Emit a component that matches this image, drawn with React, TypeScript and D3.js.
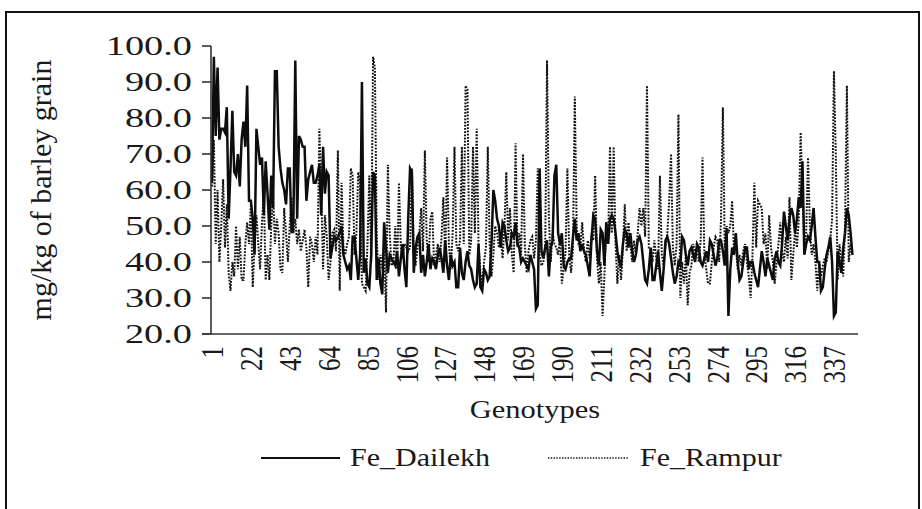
import React, {useEffect, useRef} from 'react'
import * as d3 from 'd3'

// Fe content (mg/kg of barley grain) per genotype
const feDailekh = [
  62, 97, 75, 94, 74, 77, 77, 76, 83, 52,
  66, 82, 65, 64, 70, 61, 74, 79, 72, 89, 57, 57, 52,
  42, 77, 72, 67, 69, 53, 68, 59, 49, 64,
  55, 93, 93, 72, 66, 62, 60, 56, 66, 66,
  48, 52, 96, 52, 75, 74, 72, 72, 57, 63, 65,
  67, 62, 62, 64, 67, 53, 72, 59, 65, 64,
  41, 44, 47, 46, 47, 48, 50,
  42, 40, 38, 39, 35, 47, 47, 41,
  35, 42, 90, 37, 41, 34, 33, 42, 65, 64,
  35, 41, 34, 31, 51, 44, 37, 42, 41, 40, 39, 43, 36, 41, 45,
  38, 33, 52, 66, 65, 37, 44, 47, 48, 37, 42, 36, 40, 45, 38,
  41, 40, 38, 42, 44, 41, 37, 46, 39, 35, 42, 39, 40, 33, 33, 44,
  37, 35, 40, 43, 39, 38, 35, 33, 34, 45,
  33, 32, 38, 37, 35, 36, 45, 60, 57, 52,
  50, 44, 51, 50, 46, 43, 44, 48, 47, 51,
  45, 44, 40, 41, 40, 39, 38, 42, 40, 38,
  27, 28, 66, 43, 41, 44, 46, 36, 44, 46,
  64, 67, 48, 45, 48, 39, 38, 40, 41, 41,
  47, 52, 46, 48, 43, 45, 43, 42,
  39, 36, 46, 53, 52, 43,
  39, 49, 48, 39, 51, 45, 52, 53, 52, 48,
  43, 40, 39, 45, 49, 48, 44, 48, 43, 40,
  42, 46, 47, 45, 40, 35, 34, 38, 44, 35,
  35, 39, 43, 37, 32, 38, 46, 47, 45, 41,
  37, 34, 36, 40, 39, 47, 46, 42, 39, 43,
  44, 42, 40, 45, 44, 40, 39, 41, 43, 40,
  46, 45, 42, 39, 41, 46, 46, 43, 39, 49,
  25, 38, 44, 42, 48, 40, 35, 36, 40, 44,
  44, 38, 40, 40, 37, 35, 33, 38, 43, 40, 36, 41, 39,
  37, 35, 41, 43, 40, 39, 45, 54, 50, 46, 52,
  55, 53, 48, 52, 58, 55, 68, 42, 45,
  47, 46, 50, 55, 47, 40, 40, 32, 33,
  38, 42, 44, 47, 40,
  25, 26, 43, 40, 37, 44, 48, 55, 53, 48, 42,
]

const feRampur = [
  61, 74, 45, 60, 40, 50, 63, 44, 56, 37,
  32, 40, 36, 50, 38, 47, 35, 35, 45, 51, 45, 56, 33,
  45, 53, 45, 38, 51, 59, 35, 42, 35, 50,
  59, 45, 52, 48, 38, 37, 55, 48, 40, 50,
  58, 48, 52, 45, 49, 43, 46, 49, 44, 33, 47,
  45, 40, 47, 42, 77, 60, 38, 53, 47, 35,
  40, 48, 49, 43, 71, 32, 62,
  44, 42, 45, 47, 66, 64, 42, 48,
  65, 62, 34, 33, 32, 45, 64, 40, 97, 94,
  47, 35, 42, 38, 45, 26, 67, 48, 39, 40, 50, 38, 62, 44, 41,
  45, 44, 43, 44, 66, 42, 39, 44, 48, 55, 43, 71, 46, 40, 52,
  54, 39, 42, 45, 40, 47, 58, 40, 69, 45, 38, 48, 72, 45, 43, 46,
  72, 45, 89, 88, 42, 46, 72, 48, 77, 45,
  37, 34, 40, 44, 72, 45, 36, 42, 50, 48,
  44, 47, 41, 50, 65, 46, 55, 42, 37, 73,
  44, 48, 42, 70, 45, 37, 43, 46, 47, 41,
  46, 66, 42, 39, 40, 44, 96, 52, 40, 48,
  45, 44, 42, 47, 34, 38, 43, 66, 42, 37,
  44, 86, 50, 45, 44, 51, 43, 40,
  46, 41, 48, 46, 64, 41,
  34, 40, 25, 36, 51, 45, 72, 48, 72, 45,
  34, 42, 35, 44, 56, 43, 51, 45, 40, 46,
  42, 48, 55, 50, 55, 47, 89, 44, 44, 40,
  46, 41, 38, 64, 42, 39, 44, 48, 57, 70,
  44, 39, 45, 81, 30, 40, 34, 42, 28, 37,
  39, 45, 42, 44, 40, 46, 69, 42, 38, 34,
  34, 40, 44, 47, 46, 40, 52, 83, 44, 50,
  48, 50, 57, 43, 44, 38, 42, 39, 43, 45,
  40, 36, 30, 42, 62, 44, 57, 56, 55, 45, 48, 38, 53,
  44, 40, 34, 40, 45, 51, 43, 40, 47, 41, 58,
  35, 42, 49, 44, 52, 76, 60, 45, 48,
  69, 50, 42, 45, 40, 32, 40, 36, 39,
  41, 40, 43, 46, 52,
  93, 70, 35, 45, 40, 36, 50, 89, 40, 45, 42,
]

const yTicks = [20, 30, 40, 50, 60, 70, 80, 90, 100]
const xTickLabels = [1, 22, 43, 64, 85, 106, 127, 148, 169, 190, 211, 232, 253, 274, 295, 316, 337]
const seriesNames = ['Fe_Dailekh', 'Fe_Rampur']

const FONT = "'Liberation Serif', 'Times New Roman', serif"

export default function App() {
  const ref = useRef(null)

  useEffect(() => {
    const svg = d3.select(ref.current)
    svg.selectAll('*').remove()

    const x = d3.scaleLinear().domain([1, 350]).range([212, 858])
    const y = d3.scaleLinear().domain([20, 100]).range([334, 46])
    const axisX = 211

    // outer frame
    svg
      .append('rect')
      .attr('x', 6)
      .attr('y', 12)
      .attr('width', 913)
      .attr('height', 560)
      .attr('fill', 'none')
      .attr('stroke', '#111')
      .attr('stroke-width', 2)

    const line = d3
      .line()
      .x((d, i) => x(i + 1))
      .y((d) => y(d))

    svg
      .append('path')
      .datum(feRampur)
      .attr('d', line)
      .attr('fill', 'none')
      .attr('stroke', '#111')
      .attr('stroke-width', 2)
      .attr('stroke-dasharray', '1.8 1.4')

    svg
      .append('path')
      .datum(feDailekh)
      .attr('d', line)
      .attr('fill', 'none')
      .attr('stroke', '#0d0d0d')
      .attr('stroke-width', 2.5)

    // axes
    const axisColor = '#333'
    svg
      .append('line')
      .attr('x1', axisX)
      .attr('x2', axisX)
      .attr('y1', y(100))
      .attr('y2', y(20))
      .attr('stroke', axisColor)
      .attr('stroke-width', 1.6)
    svg
      .append('line')
      .attr('x1', axisX - 9)
      .attr('x2', x(350))
      .attr('y1', y(20))
      .attr('y2', y(20))
      .attr('stroke', axisColor)
      .attr('stroke-width', 1.6)

    svg
      .selectAll('line.ytick')
      .data(yTicks)
      .enter()
      .append('line')
      .attr('class', 'ytick')
      .attr('x1', axisX - 9)
      .attr('x2', axisX)
      .attr('y1', (d) => y(d))
      .attr('y2', (d) => y(d))
      .attr('stroke', axisColor)
      .attr('stroke-width', 1.6)

    svg
      .selectAll('text.ylab')
      .data(yTicks)
      .enter()
      .append('text')
      .attr('class', 'ylab')
      .attr('transform', (d) => `translate(192 ${y(d)}) scale(1.42 1)`)
      .attr('text-anchor', 'end')
      .attr('dominant-baseline', 'central')
      .style('font-family', FONT)
      .style('font-size', '27px')
      .style('fill', '#1a1a1a')
      .text((d) => d3.format('.1f')(d))

    svg
      .selectAll('text.xlab')
      .data(xTickLabels)
      .enter()
      .append('text')
      .attr('class', 'xlab')
      .attr('transform', (d) => `translate(${x(d)} 346) scale(1.3 1) rotate(-90)`)
      .attr('text-anchor', 'end')
      .attr('dominant-baseline', 'central')
      .style('font-family', FONT)
      .style('font-size', '25px')
      .style('fill', '#1a1a1a')
      .text((d) => d)

    svg
      .append('text')
      .attr('transform', `translate(535 418) scale(1.22 1)`)
      .attr('text-anchor', 'middle')
      .style('font-family', FONT)
      .style('font-size', '25px')
      .style('fill', '#1a1a1a')
      .text('Genotypes')

    svg
      .append('text')
      .attr('transform', `translate(40 ${(y(100) + y(20)) / 2}) rotate(-90)`)
      .attr('text-anchor', 'middle')
      .attr('dominant-baseline', 'central')
      .style('font-family', FONT)
      .style('font-size', '30px')
      .style('fill', '#1a1a1a')
      .text('mg/kg of barley grain')

    // legend
    const legend = [
      {name: seriesNames[0], x1: 261, x2: 340, tx: 350, dash: null, w: 2.2},
      {name: seriesNames[1], x1: 548, x2: 628, tx: 640, dash: '1.4 1.4', w: 1.4},
    ]
    legend.forEach((l) => {
      svg
        .append('line')
        .attr('x1', l.x1)
        .attr('x2', l.x2)
        .attr('y1', 458)
        .attr('y2', 458)
        .attr('stroke', '#111')
        .attr('stroke-width', l.w)
        .attr('stroke-dasharray', l.dash)
      svg
        .append('text')
        .attr('transform', `translate(${l.tx} 466) scale(1.2 1)`)
        .style('font-family', FONT)
        .style('font-size', '25px')
        .style('fill', '#1a1a1a')
        .text(l.name)
    })
  }, [])

  return (
    <div style={{position: 'fixed', left: 0, top: 0, background: '#fff'}}>
      <svg ref={ref} width={922} height={509} />
    </div>
  )
}
